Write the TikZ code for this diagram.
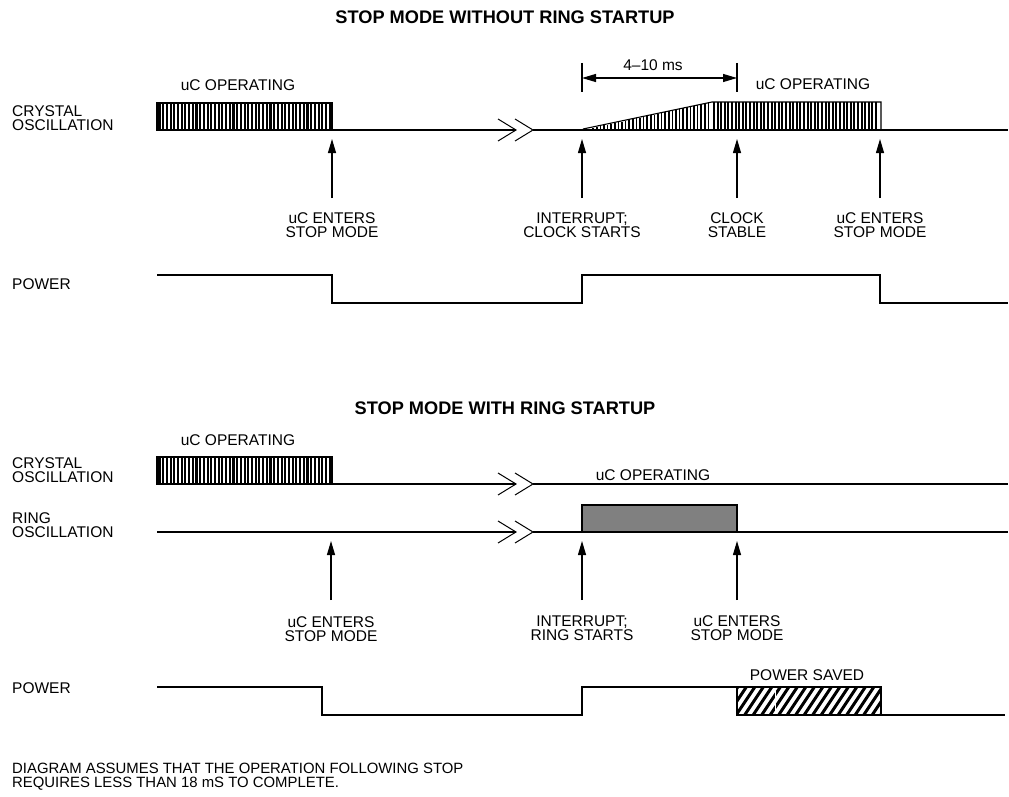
\documentclass[tikz,border=0pt]{standalone}
\usepackage{fontspec}
\setmainfont{Liberation Sans}
\usetikzlibrary{arrows.meta}
\begin{document}
\begin{tikzpicture}[x=1pt,y=-1pt,
  sig/.style={line width=1.1pt, line join=miter},
  lbl/.style={font=\fontsize{15.5}{14}\selectfont, inner sep=0pt, align=center},
  side/.style={lbl, anchor=west, align=left},
  ttl/.style={font=\bfseries\fontsize{18.2}{20}\selectfont, inner sep=0pt},
  evarrow/.style={line width=1.1pt, -{Triangle[length=14pt,width=8pt]}},
  dimarrow/.style={line width=1.1pt, {Triangle[length=14pt,width=8pt]}-{Triangle[length=14pt,width=8pt]}},
  stripe/.style={line width=2.1pt},
  brk/.style={line width=1pt}
]
\useasboundingbox (0,0) rectangle (1009,797);

% ================= TOP SECTION =================
\node[ttl] (t1) at (505,17) {STOP MODE WITHOUT RING STARTUP};

\node[side] (xtal1) at (12,118) {CRYSTAL\\OSCILLATION};
\node[side] (pow1) at (12,284) {POWER};

\node[lbl] (op1) at (238,85) {uC OPERATING};
\node[lbl] (op2) at (813,84) {uC OPERATING};

% oscillation block left
\foreach \x in {159.5,163.2,...,331} \draw[stripe] (\x,103) -- (\x,130);
\draw[sig] (157,130) rectangle (332,103);
% baseline with break
\draw[sig] (332,130) -- (516,130);
\draw[sig] (533,130) -- (1008,130);
\draw[brk] (498,119) -- (516,130) -- (498,141);
\draw[brk] (515,119) -- (533,130) -- (515,141);
% ramp
\foreach \x in {586,589.6,...,712} {
  \pgfmathsetmacro\h{130-28*(\x-583)/129}
  \draw[line width=1.6pt] (\x,130) -- (\x,\h);
}
\foreach \x in {714,717.6,...,879} \draw[stripe] (\x,102) -- (\x,130);
\draw[sig] (583,129) -- (712,102) -- (881,102) -- (881,130);

% dimension 4-10 ms
\coordinate (d1t) at (582,63); \coordinate (d1b) at (582,92);
\coordinate (d2t) at (737,63); \coordinate (d2b) at (737,92);
\draw[sig] (d1t) -- (d1b);
\draw[sig] (d2t) -- (d2b);
\coordinate (da) at (582,78); \coordinate (db) at (737,78);
\draw[dimarrow] (da) -- (db);
\node[lbl] (dim) at (653,65) {4–10 ms};

% event arrows
\node[lbl] (e1) at (332,225) {uC ENTERS\\STOP MODE};
\node[lbl] (e2) at (582,225) {INTERRUPT;\\CLOCK STARTS};
\node[lbl] (e3) at (737,225) {CLOCK\\STABLE};
\node[lbl] (e4) at (880,225) {uC ENTERS\\STOP MODE};
\foreach \n/\x in {1/332,2/582,3/737,4/880} {
  \coordinate (a\n s) at (\x,198);
  \coordinate (a\n e) at (\x,139);
  \draw[evarrow] (a\n s) -- (a\n e);
}

% power
\draw[sig] (157,275) -- (332,275) -- (332,303) -- (582,303) -- (582,275) -- (880,275) -- (880,303) -- (1008,303);

% ================= BOTTOM SECTION =================
\node[ttl] (t2) at (505,408) {STOP MODE WITH RING STARTUP};

\node[side] (xtal2) at (12,470) {CRYSTAL\\OSCILLATION};
\node[side] (ring2) at (12,525) {RING\\OSCILLATION};
\node[side] (pow2) at (12,688) {POWER};

\node[lbl] (op3) at (238,440) {uC OPERATING};
\node[lbl] (op4) at (653,475) {uC OPERATING};

\foreach \x in {159.5,163.2,...,331} \draw[stripe] (\x,457) -- (\x,484);
\draw[sig] (157,484) rectangle (332,457);
\draw[sig] (332,484) -- (516,484);
\draw[sig] (533,484) -- (1008,484);
\draw[brk] (498,473) -- (516,484) -- (498,495);
\draw[brk] (515,473) -- (533,484) -- (515,495);

% ring
\draw[sig] (157,532) -- (516,532);
\draw[sig] (533,532) -- (1008,532);
\draw[brk] (498,521) -- (516,532) -- (498,543);
\draw[brk] (515,521) -- (533,532) -- (515,543);
\draw[sig, fill=black!50] (582,532) rectangle (737,505);

% event arrows
\node[lbl] (f1) at (331,629) {uC ENTERS\\STOP MODE};
\node[lbl] (f2) at (582,628) {INTERRUPT;\\RING STARTS};
\node[lbl] (f3) at (737,628) {uC ENTERS\\STOP MODE};
\foreach \n/\x in {1/331,2/582,3/737} {
  \coordinate (b\n s) at (\x,600);
  \coordinate (b\n e) at (\x,541);
  \draw[evarrow] (b\n s) -- (b\n e);
}

% power
\draw[sig] (157,687) -- (322,687) -- (322,715) -- (582,715) -- (582,687) -- (737,687);
\draw[sig] (881,715) -- (1005,715);
\begin{scope}
  \clip (737,687) rectangle (881,715);
  \foreach \i in {710,718.5,...,890} \draw[line width=3pt] (\i,716) -- (\i+20,686);
  \draw[white, line width=0.8pt] (775,687) -- (775,715);
\end{scope}
\draw[sig] (737,687) rectangle (881,715);
\node[lbl] (ps) at (807,675) {POWER SAVED};

% footnote
\node[side, font=\fontsize{14.9}{13.5}\selectfont] (note) at (12,776.5) {DIAGRAM ASSUMES THAT THE OPERATION FOLLOWING STOP\\REQUIRES LESS THAN 18 mS TO COMPLETE.};
\end{tikzpicture}
\end{document}
